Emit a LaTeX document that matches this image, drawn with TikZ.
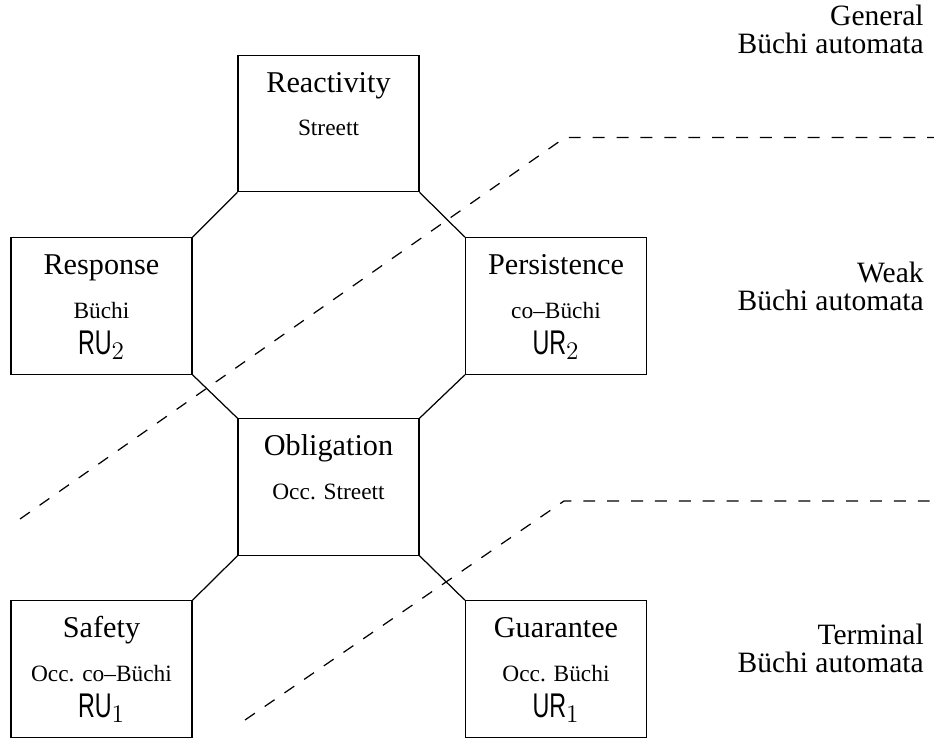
\documentclass[tikz,border=0pt]{standalone}
\usepackage{fontspec}
\setmainfont{Liberation Serif}
\setsansfont{Liberation Sans}
\newfontfamily\narrowsf[FakeStretch=0.68]{Liberation Sans}
\usetikzlibrary{calc}
\tikzstyle{zone}=[
        draw,
        line width=0.7pt,
        minimum width=3.62cm,
        minimum height=2.73cm,
        inner sep=0pt
]
\tikzstyle{heading}=[
        anchor=base,
        inner sep=0pt,
        font=\fontsize{17.2}{20}\selectfont
]
\tikzstyle{cond}=[
        anchor=base,
        inner sep=0pt,
        font=\fontsize{13.3}{16}\selectfont
]
\tikzstyle{class}=[
        anchor=base,
        inner sep=0pt,
        font=\fontsize{19.5}{22}\selectfont\narrowsf
]
\tikzstyle{tier}=[
        anchor=base east,
        align=right,
        inner sep=0pt,
        font=\fontsize{16.8}{15.4}\selectfont
]
\tikzstyle{link}=[
        line width=0.7pt
]
\tikzstyle{boundary}=[
        line width=0.7pt,
        dash pattern=on 6.8pt off 6.8pt
]

\begin{document}
\begin{tikzpicture}[x=0.02cm,y=-0.02cm]
                        \useasboundingbox (0,0) rectangle (934,738);

                        \node[zone] (reac) at (328.5,123.5) {};
                        \node[zone] (resp) at (101.5,306) {};
                        \node[zone] (pers) at (556,306) {};
                        \node[zone] (obl) at (328.5,487) {};
                        \node[zone] (safe) at (101.5,669) {};
                        \node[zone] (guar) at (556,669) {};

                        \node[heading] (reac-h) at ($(reac.north)+(0,37.5)$) {Reactivity};
                        \node[cond] (reac-c) at ($(reac.north)+(0,81)$) {Streett};

                        \node[heading] (resp-h) at ($(resp.north)+(0,37.5)$) {Response};
                        \node[cond] (resp-c) at ($(resp.north)+(0,81)$) {Büchi};
                        \node[class] (resp-k) at ($(resp.north)+(0,117)$) {RU$_2$};

                        \node[heading] (pers-h) at ($(pers.north)+(0,37.5)$) {Persistence};
                        \node[cond] (pers-c) at ($(pers.north)+(0,81)$) {co--Büchi};
                        \node[class] (pers-k) at ($(pers.north)+(0,117)$) {UR$_2$};

                        \node[heading] (obl-h) at ($(obl.north)+(0,37.5)$) {Obligation};
                        \node[cond] (obl-c) at ($(obl.north)+(0,81)$) {Occ. Streett};

                        \node[heading] (safe-h) at ($(safe.north)+(0,37.5)$) {Safety};
                        \node[cond] (safe-c) at ($(safe.north)+(0,81)$) {Occ. co--Büchi};
                        \node[class] (safe-k) at ($(safe.north)+(0,117)$) {RU$_1$};

                        \node[heading] (guar-h) at ($(guar.north)+(0,37.5)$) {Guarantee};
                        \node[cond] (guar-c) at ($(guar.north)+(0,81)$) {Occ. Büchi};
                        \node[class] (guar-k) at ($(guar.north)+(0,117)$) {UR$_1$};

                        \draw[link] (reac.south west) -- (resp.north east);
                        \draw[link] (reac.south east) -- (pers.north west);
                        \draw[link] (resp.south east) -- (obl.north west);
                        \draw[link] (pers.south west) -- (obl.north east);
                        \draw[link] (obl.south west) -- (safe.north east);
                        \draw[link] (obl.south east) -- (guar.north west);

                        \coordinate (upper-a) at (20,519);
                        \coordinate (upper-b) at (565,137.5);
                        \coordinate (upper-c) at (934,137.5);
                        \coordinate (lower-a) at (245,720);
                        \coordinate (lower-b) at (564,501);
                        \coordinate (lower-c) at (934,501);
                        \draw[boundary] (upper-a) -- (upper-b) -- (upper-c);
                        \draw[boundary] (lower-a) -- (lower-b) -- (lower-c);

                        \node[tier] (general) at (924,53) {General\\Büchi automata};
                        \node[tier] (weak) at (924,310) {Weak\\Büchi automata};
                        \node[tier] (terminal) at (924,672) {Terminal\\Büchi automata};

                    \end{tikzpicture}
\end{document}
